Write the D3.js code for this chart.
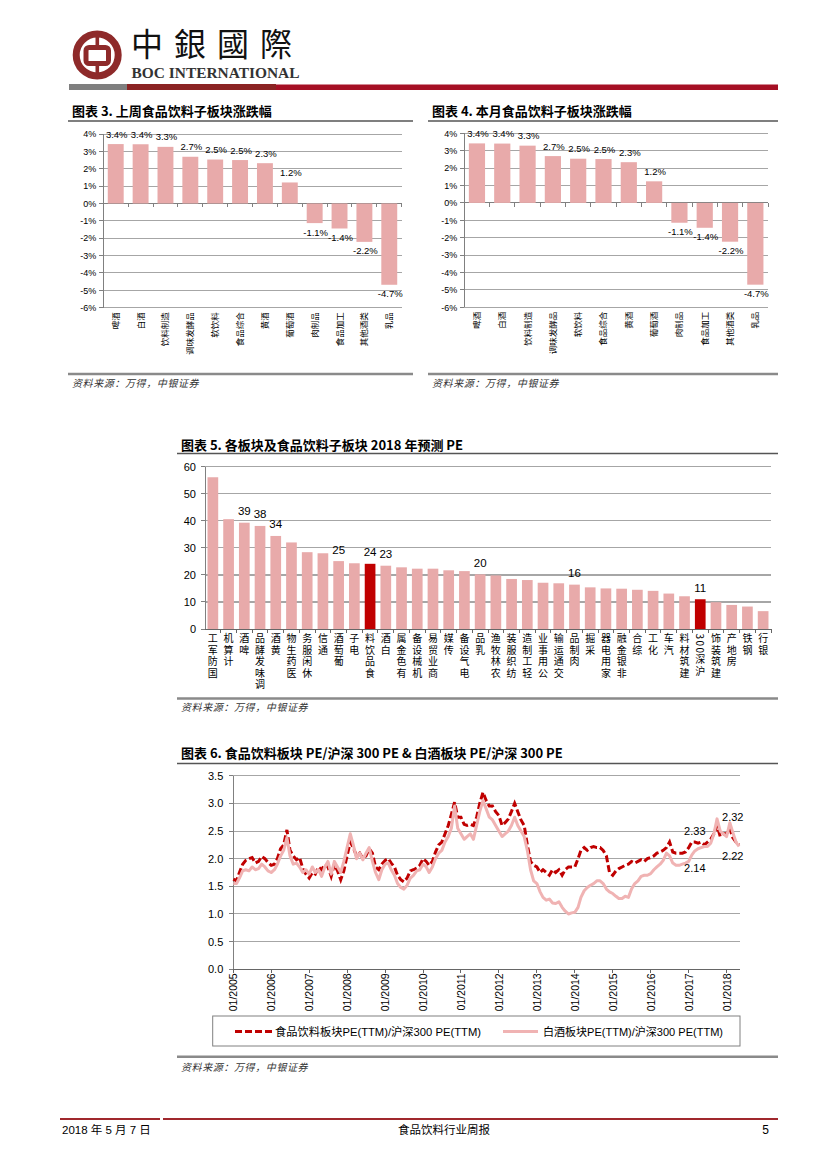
<!DOCTYPE html>
<html><head><meta charset="utf-8">
<script src="https://cdn.jsdelivr.net/npm/d3@7/dist/d3.min.js"></script>
<style>
body{margin:0;background:#fff}
svg{display:block}
.vt{writing-mode:vertical-rl;}
</style></head><body>
<svg id="page" width="827" height="1169"></svg>
<script>
// ---------------- DATA ----------------
const subCategories = ["啤酒","白酒","饮料制造","调味发酵品","软饮料","食品综合","黄酒","葡萄酒","肉制品","食品加工","其他酒类","乳品"];
const weekChange  = [3.42,3.41,3.26,2.69,2.53,2.50,2.32,1.21,-1.13,-1.44,-2.21,-4.68];
const monthChange = [3.42,3.41,3.29,2.69,2.54,2.52,2.34,1.24,-1.14,-1.43,-2.23,-4.70];
const pctTicks = [-6,-5,-4,-3,-2,-1,0,1,2,3,4];

const sectors = ["国防军工","计算机","啤酒","调味发酵品","黄酒","医药生物","休闲服务","通信","葡萄酒","电子","食品饮料","白酒","有色金属","机械设备","商业贸易","传媒","电气设备","乳品","农林牧渔","纺织服装","轻工制造","公用事业","交通运输","肉制品","采掘","家用电器","非银金融","综合","化工","汽车","建筑材料","沪深300","建筑装饰","房地产","钢铁","银行"];
const pe2018 = [56.1,40.6,39.3,38.1,34.4,32.0,28.4,28.0,25.1,24.3,24.1,23.4,22.8,22.3,22.3,21.7,21.4,20.2,19.8,18.5,18.1,17.1,16.9,16.4,15.4,15.0,14.9,14.5,14.1,13.1,12.1,11.0,9.9,8.9,8.3,6.6];
const peLabelled = ["啤酒","调味发酵品","黄酒","葡萄酒","食品饮料","白酒","乳品","肉制品","沪深300"];
const peHighlight = ["食品饮料","沪深300"];
const peTicks = [0,10,20,30,40,50,60];

// monthly, Jan 2005 .. May 2018
const firstMonth = "2005-01-01";
const foodRatio = [
1.63,1.60,1.75,1.90,1.97,2.00,2.02,1.92,1.95,2.04,2.00,1.93,
1.88,1.90,2.00,2.18,2.25,2.52,2.15,2.05,1.98,2.02,1.82,1.72,
1.65,1.75,1.72,1.85,1.80,1.90,1.85,1.68,1.90,1.78,1.62,1.78,
2.05,2.30,2.20,2.05,2.10,2.00,2.05,2.18,2.10,1.85,1.80,1.90,
1.97,2.00,1.92,1.85,1.70,1.62,1.58,1.65,1.78,1.80,1.83,1.88,
2.00,1.95,1.88,1.95,2.12,2.25,2.30,2.45,2.60,2.80,3.02,2.75,
2.75,2.62,2.60,2.62,2.60,2.75,3.00,3.20,3.05,2.95,2.95,2.85,
2.78,2.60,2.65,2.72,2.85,3.00,2.85,2.70,2.60,2.25,1.95,1.88,
1.85,1.75,1.80,1.75,1.70,1.80,1.75,1.80,1.70,1.80,1.85,1.85,
1.85,2.00,2.15,2.20,2.15,2.20,2.22,2.20,2.20,2.15,2.05,1.75,
1.70,1.78,1.82,1.85,1.88,1.90,1.95,1.92,1.95,1.98,1.95,2.00,
2.02,2.05,2.10,2.12,2.15,2.20,2.30,2.12,2.10,2.10,2.10,2.12,
2.20,2.30,2.30,2.28,2.30,2.25,2.30,2.35,2.45,2.60,2.40,2.45,
2.45,2.55,2.38,2.30,2.25];
const baijiuRatio = [
1.55,1.55,1.65,1.78,1.80,1.78,1.85,1.80,1.82,1.90,1.85,1.78,
1.75,1.80,1.90,2.05,2.15,2.38,2.05,1.90,1.92,1.85,1.75,1.80,
1.72,1.85,1.75,1.80,1.68,1.85,1.95,1.72,1.95,1.85,1.75,1.95,
2.20,2.45,2.25,2.00,2.10,1.98,2.10,2.20,1.95,1.75,1.62,1.80,
1.90,1.92,1.80,1.70,1.55,1.48,1.45,1.52,1.65,1.70,1.78,1.80,
1.90,1.85,1.75,1.85,2.00,2.10,2.15,2.30,2.40,2.55,2.95,2.55,
2.45,2.35,2.40,2.45,2.35,2.60,2.85,3.05,2.90,2.75,2.70,2.60,
2.50,2.40,2.45,2.50,2.60,2.75,2.60,2.50,2.40,2.15,1.80,1.60,
1.55,1.40,1.30,1.25,1.27,1.20,1.19,1.22,1.12,1.05,1.00,1.02,
1.03,1.12,1.30,1.42,1.48,1.52,1.55,1.60,1.60,1.55,1.45,1.40,
1.37,1.32,1.28,1.28,1.32,1.30,1.45,1.55,1.60,1.68,1.70,1.70,
1.73,1.80,1.85,1.90,1.97,2.10,2.05,1.92,1.88,1.88,1.90,1.92,
1.95,2.07,2.14,2.18,2.20,2.22,2.22,2.28,2.45,2.72,2.50,2.45,
2.40,2.65,2.48,2.30,2.22];
const ratioTicks = [0,0.5,1,1.5,2,2.5,3,3.5];
const ratioAnnotations = [
  {text:"2.33", date:"2017-03-01", pos:2.505},
  {text:"2.14", date:"2017-03-01", pos:1.83},
  {text:"2.32", date:"2018-03-01", pos:2.76},
  {text:"2.22", date:"2018-03-01", pos:2.05}
];
const legendLabels = ["食品饮料板块PE(TTM)/沪深300 PE(TTM)","白酒板块PE(TTM)/沪深300 PE(TTM)"];

// ---------------- STYLE ----------------
const CJK = '"Noto Sans CJK SC","Noto Sans CJK TC",sans-serif';
const LAT = '"Liberation Sans",Arial,sans-serif';
const NARROW = '"Liberation Sans Narrow","Liberation Sans",sans-serif';
const PINK = "#E8AAAA", RED = "#C00000", LINEPINK = "#F0B3B3", GRID = "#A6A6A6", AXIS = "#808080";
const fmtPct = d => d3.format(".1f")(d).replace("\u2212","-") + "%";

const svg = d3.select("#page");

// ---------------- HEADER ----------------
const hdr = svg.append("g");
const LOGO = "#8E2A2A";
hdr.append("circle").attr("cx",97.2).attr("cy",55).attr("r",21).attr("fill","none").attr("stroke",LOGO).attr("stroke-width",7);
hdr.append("rect").attr("x",86).attr("y",47.5).attr("width",22.5).attr("height",16).attr("rx",3).attr("fill","none").attr("stroke",LOGO).attr("stroke-width",5);
hdr.append("rect").attr("x",95.5).attr("y",31).attr("width",3.6).attr("height",16).attr("fill",LOGO);
hdr.append("rect").attr("x",95.5).attr("y",63).attr("width",3.6).attr("height",16).attr("fill",LOGO);
hdr.append("text").attr("x",131).attr("y",56).attr("font-family",'"Noto Sans CJK TC",sans-serif').attr("font-size",32).attr("letter-spacing",11).attr("fill","#111").text("中銀國際");
hdr.append("text").attr("x",131.5).attr("y",78.3).attr("font-family",'"Liberation Serif","Times New Roman",serif').attr("font-weight","bold").attr("font-size",14).attr("textLength",168).attr("lengthAdjust","spacingAndGlyphs").attr("fill","#333").text("BOC INTERNATIONAL");
hdr.append("rect").attr("x",69).attr("y",84).attr("width",58).attr("height",6).attr("fill","#7F7F7F");
hdr.append("rect").attr("x",127).attr("y",84).attr("width",149).attr("height",6).attr("fill","#8B2323");
hdr.append("rect").attr("x",276).attr("y",84.5).attr("width",502).attr("height",5.5).attr("fill","#A50F24");

// ---------------- HELPERS ----------------
function frame(x0,x1,title,titleY,underY,sepY,srcY){
  const g = svg.append("g");
  g.append("text").attr("x",x0+4).attr("y",titleY).attr("font-family",CJK).attr("font-weight","bold").attr("font-size",13).attr("fill","#000").text(title);
  g.append("line").attr("x1",x0).attr("x2",x1).attr("y1",underY).attr("y2",underY).attr("stroke","#555").attr("stroke-width",1.6);
  g.append("line").attr("x1",x0).attr("x2",x1).attr("y1",sepY).attr("y2",sepY).attr("stroke","#8a8a8a").attr("stroke-width",2.5);
  g.append("text").attr("x",x0+4).attr("y",srcY).attr("font-family",CJK).attr("font-style","italic").attr("font-size",10).attr("letter-spacing",0.6).attr("fill","#333").text("资料来源：万得，中银证券");
}

// upright CJK characters stacked in one vertical text, last character nearest the axis
function stackLabel(g,label,cx,yTop,fs,spacing){
  const tokens = label.match(/[0-9A-Za-z]+|[^0-9A-Za-z]/g).reverse().join("");
  g.append("text").attr("class","vt").attr("x",cx).attr("y",yTop)
    .attr("font-size",fs).attr("font-family",CJK).attr("letter-spacing",spacing).attr("fill","#000").text(tokens);
}

function pctBarChart(values,x0,x1,yTop,yBot){
  const g = svg.append("g");
  const x = d3.scaleBand().domain(subCategories).range([x0,x1]).paddingInner(0.36).paddingOuter(0.18);
  const y = d3.scaleLinear().domain([-6,4]).range([yBot,yTop]);
  pctTicks.forEach(t=>{
    g.append("line").attr("x1",x0).attr("x2",x1).attr("y1",y(t)).attr("y2",y(t))
      .attr("stroke",t===0?AXIS:GRID).attr("stroke-width",1).attr("shape-rendering","crispEdges");
    g.append("line").attr("x1",x0-4).attr("x2",x0).attr("y1",y(t)).attr("y2",y(t)).attr("stroke",AXIS).attr("shape-rendering","crispEdges");
    g.append("text").attr("x",x0-7).attr("y",y(t)+3.2).attr("text-anchor","end").attr("font-family",LAT).attr("font-size",9).attr("fill","#000").text(t+"%");
  });
  g.append("line").attr("x1",x0).attr("x2",x0).attr("y1",yTop).attr("y2",yBot).attr("stroke",AXIS).attr("shape-rendering","crispEdges");
  const gap = (x.step()-x.bandwidth())/2;
  subCategories.forEach(c=>{
    const tx = x(c)+x.bandwidth()+gap;
    g.append("line").attr("x1",tx).attr("x2",tx).attr("y1",y(0)).attr("y2",y(0)+4).attr("stroke",AXIS).attr("shape-rendering","crispEdges");
  });
  g.selectAll("rect.bar").data(values).join("rect")
    .attr("x",(d,i)=>x(subCategories[i])).attr("width",x.bandwidth())
    .attr("y",d=>Math.min(y(d),y(0))).attr("height",d=>Math.abs(y(d)-y(0))).attr("fill",PINK);
  g.selectAll("text.val").data(values).join("text")
    .attr("x",(d,i)=>x(subCategories[i])+x.bandwidth()/2+1)
    .attr("y",d=>d>=0? y(d)-6.5 : y(d)+12.5)
    .attr("text-anchor","middle").attr("font-family",LAT).attr("font-size",9.5).attr("fill","#000")
    .text(d=>fmtPct(d));
  subCategories.forEach(c=>{
    g.append("text").attr("transform",`translate(${x(c)+x.bandwidth()/2+3},${yBot+4.5}) rotate(-90)`)
      .attr("text-anchor","end").attr("font-family",CJK).attr("font-size",8.5).attr("fill","#000").text(c);
  });
}

// ---------------- CHART 3 & 4 ----------------
frame(68,413,"图表 3. 上周食品饮料子板块涨跌幅",116,121,374,387);
pctBarChart(weekChange,103.3,401.7,134,307.7);
frame(428,778,"图表 4. 本月食品饮料子板块涨跌幅",116,121,374,387);
pctBarChart(monthChange,464.3,768,133.3,307.3);

// ---------------- CHART 5 ----------------
frame(177,778,"图表 5. 各板块及食品饮料子板块 2018 年预测 PE",450,453.5,698.5,711);
(function(){
  const g = svg.append("g");
  const x0=205,x1=771,yTop=466.7,yBot=629;
  const x = d3.scaleBand().domain(sectors).range([x0,x1]).paddingInner(0.32).paddingOuter(0.16);
  const y = d3.scaleLinear().domain([0,60]).range([yBot,yTop]);
  peTicks.forEach(t=>{
    g.append("line").attr("x1",x0).attr("x2",x1).attr("y1",y(t)).attr("y2",y(t))
      .attr("stroke",t===0?"#666":GRID).attr("stroke-width",t===0?1:1.2).attr("shape-rendering","crispEdges");
    g.append("line").attr("x1",x0-4).attr("x2",x0).attr("y1",y(t)).attr("y2",y(t)).attr("stroke",AXIS).attr("shape-rendering","crispEdges");
    g.append("text").attr("x",x0-9).attr("y",y(t)+3.8).attr("text-anchor","end").attr("font-family",NARROW).attr("font-size",11).attr("fill","#000").text(t);
  });
  g.append("line").attr("x1",x0).attr("x2",x0).attr("y1",yTop).attr("y2",yBot).attr("stroke",AXIS).attr("shape-rendering","crispEdges");
  const gap = (x.step()-x.bandwidth())/2;
  sectors.forEach(s=>{
    const tx = x(s)+x.bandwidth()+gap;
    g.append("line").attr("x1",tx).attr("x2",tx).attr("y1",yBot).attr("y2",yBot+4).attr("stroke","#666").attr("shape-rendering","crispEdges");
  });
  g.selectAll("rect.bar").data(pe2018).join("rect")
    .attr("x",(d,i)=>x(sectors[i])).attr("width",x.bandwidth())
    .attr("y",d=>y(d)).attr("height",d=>yBot-y(d))
    .attr("fill",(d,i)=>peHighlight.includes(sectors[i])?RED:PINK);
  sectors.forEach((s,i)=>{
    if(peLabelled.includes(s)){
      g.append("text").attr("x",x(s)+x.bandwidth()/2).attr("y",y(pe2018[i])-7.5).attr("text-anchor","middle")
        .attr("font-family",NARROW).attr("font-size",11.5).attr("fill","#000").text(d3.format(".0f")(pe2018[i]));
    }
    stackLabel(g,s,x(s)+x.bandwidth()/2,yBot+4.5,10,1.5);
  });
})();

// ---------------- CHART 6 ----------------
frame(177,778,"图表 6. 食品饮料板块 PE/沪深 300 PE & 白酒板块 PE/沪深 300 PE",758,763.5,1056.7,1071);
(function(){
  const g = svg.append("g");
  const x0=233.3,x1=740,yTop=775.7,yBot=969.3;
  const start = new Date(firstMonth+"T00:00:00");
  const dates = foodRatio.map((d,i)=>d3.timeMonth.offset(start,i));
  const x = d3.scaleTime().domain([new Date("2005-01-01T00:00:00"),new Date("2018-05-10T00:00:00")]).range([x0,x1]);
  const y = d3.scaleLinear().domain([0,3.5]).range([yBot,yTop]);
  ratioTicks.forEach(t=>{
    g.append("line").attr("x1",x0).attr("x2",x1).attr("y1",y(t)).attr("y2",y(t))
      .attr("stroke",t===0?"#666":GRID).attr("stroke-width",1).attr("shape-rendering","crispEdges");
    g.append("line").attr("x1",x0-4).attr("x2",x0).attr("y1",y(t)).attr("y2",y(t)).attr("stroke",AXIS).attr("shape-rendering","crispEdges");
    g.append("text").attr("x",x0-10).attr("y",y(t)+4).attr("text-anchor","end").attr("font-family",LAT).attr("font-size",11).attr("fill","#000").text(d3.format(".1f")(t));
  });
  g.append("line").attr("x1",x0).attr("x2",x0).attr("y1",yTop).attr("y2",yBot).attr("stroke",AXIS).attr("shape-rendering","crispEdges");
  const years = d3.timeYear.range(new Date("2005-01-01T00:00:00"),new Date("2018-05-10T00:00:00"));
  years.forEach(d=>{
    g.append("line").attr("x1",x(d)).attr("x2",x(d)).attr("y1",yBot).attr("y2",yBot+4).attr("stroke","#666").attr("shape-rendering","crispEdges");
    g.append("text").attr("transform",`translate(${x(d)+4},${yBot+4}) rotate(-90)`).attr("text-anchor","end")
      .attr("font-family",LAT).attr("font-size",10.5).attr("fill","#000").text(d3.timeFormat("%m/%Y")(d));
  });
  const line = d3.line().x((d,i)=>x(dates[i])).y(d=>y(d));
  g.append("path").attr("d",line(foodRatio)).attr("fill","none").attr("stroke",RED).attr("stroke-width",3).attr("stroke-dasharray","7 3");
  g.append("path").attr("d",line(baijiuRatio)).attr("fill","none").attr("stroke",LINEPINK).attr("stroke-width",3).attr("stroke-linejoin","round");
  ratioAnnotations.forEach(a=>{
    g.append("text").attr("x",x(new Date(a.date+"T00:00:00"))).attr("y",y(a.pos)+4).attr("text-anchor","middle")
      .attr("font-family",LAT).attr("font-size",11).attr("fill","#000").text(a.text);
  });
  // legend
  g.append("rect").attr("x",212.7).attr("y",1016).attr("width",527.3).attr("height",30).attr("fill","#fff").attr("stroke","#808080").attr("stroke-width",1);
  g.append("line").attr("x1",235).attr("x2",272).attr("y1",1031.5).attr("y2",1031.5).attr("stroke",RED).attr("stroke-width",3).attr("stroke-dasharray","7 3");
  g.append("text").attr("x",275).attr("y",1035.5).attr("font-family",NARROW+","+CJK).attr("font-size",11.5).attr("textLength",206).attr("lengthAdjust","spacingAndGlyphs").attr("fill","#000").text(legendLabels[0]);
  g.append("line").attr("x1",503).attr("x2",538).attr("y1",1031.5).attr("y2",1031.5).attr("stroke",LINEPINK).attr("stroke-width",3);
  g.append("text").attr("x",543).attr("y",1035.5).attr("font-family",NARROW+","+CJK).attr("font-size",11.5).attr("textLength",180).attr("lengthAdjust","spacingAndGlyphs").attr("fill","#000").text(legendLabels[1]);
})();

// ---------------- FOOTER ----------------
const ft = svg.append("g");
ft.append("line").attr("x1",60).attr("x2",160).attr("y1",1119).attr("y2",1119).attr("stroke","#A0282D").attr("stroke-width",2);
ft.append("line").attr("x1",163).attr("x2",778).attr("y1",1119).attr("y2",1119).attr("stroke","#A0282D").attr("stroke-width",2);
ft.append("text").attr("x",62).attr("y",1134).attr("font-family",NARROW+","+CJK).attr("font-size",11.5).attr("fill","#000").text("2018 年 5 月 7 日");
ft.append("text").attr("x",444).attr("y",1134).attr("text-anchor","middle").attr("font-family",CJK).attr("font-size",11.5).attr("fill","#000").text("食品饮料行业周报");
ft.append("text").attr("x",769).attr("y",1134).attr("text-anchor","end").attr("font-family",NARROW).attr("font-size",12).attr("fill","#000").text("5");
</script>
</body></html>
